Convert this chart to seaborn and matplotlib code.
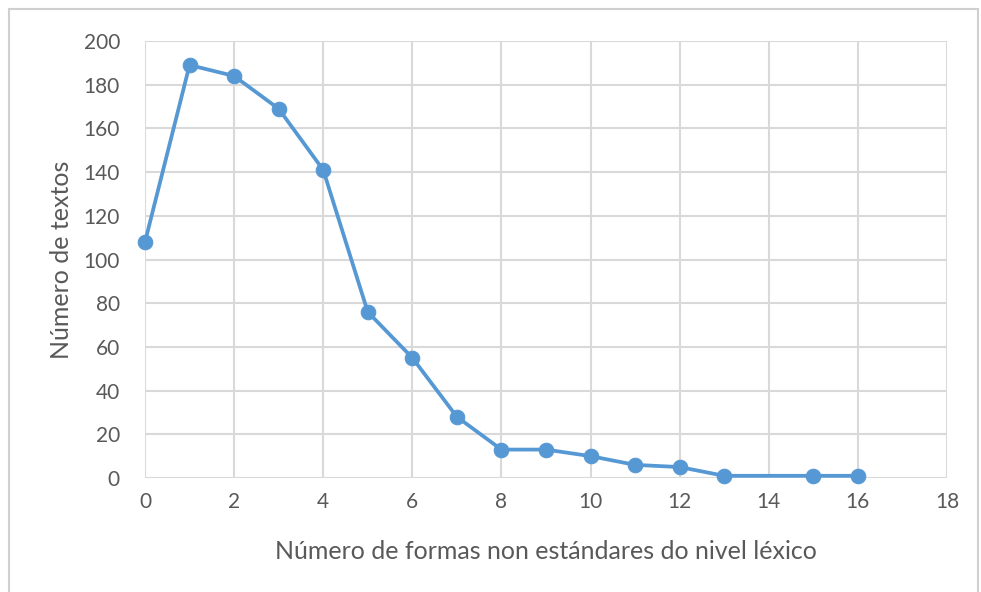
import matplotlib
matplotlib.use("Agg")
import matplotlib.pyplot as plt
import seaborn as sns
import pandas as pd
from matplotlib.patches import Rectangle

formas = [0, 1, 2, 3, 4, 5, 6, 7, 8, 9, 10, 11, 12, 13, 15, 16]
textos = [108, 189, 184, 169, 141, 76, 55, 28, 13, 13, 10, 6, 5, 1, 1, 1]
df = pd.DataFrame({"formas": formas, "textos": textos})

sns.set_theme(style="white")
plt.rcParams["font.family"] = ["Lato", "DejaVu Sans"]

fig = plt.figure(figsize=(9.81, 5.92), dpi=100)
ax = fig.add_axes([0.1478, 0.1926, 0.8175, 0.7381])
fig.patches.append(Rectangle((0.0092, -0.01), 0.988, 0.995, transform=fig.transFigure,
                             fill=False, edgecolor="#d0d0d0", linewidth=1.5))

sns.lineplot(data=df, x="formas", y="textos", ax=ax, color="#5598d4", linewidth=2.7,
             marker="o", markersize=10.5, markeredgecolor="#5598d4", clip_on=False, zorder=3)

ax.set_xlim(0, 18); ax.set_ylim(0, 200)
ax.set_xticks(range(0, 19, 2)); ax.set_yticks(range(0, 201, 20))
ax.grid(True, color="#d9d9d9", linewidth=1.5)
for s in ax.spines.values():
    s.set_visible(False)
ax.tick_params(axis="y", colors="#595959", labelsize=15, length=0, pad=18)
ax.tick_params(axis="x", colors="#595959", labelsize=15, length=0, pad=10)
ax.set_xlabel("Número de formas non estándares do nivel léxico", fontsize=18, color="#595959", labelpad=20)
ax.set_ylabel("Número de textos", fontsize=18, color="#595959", labelpad=8)

plt.savefig("out.png", dpi=100)
